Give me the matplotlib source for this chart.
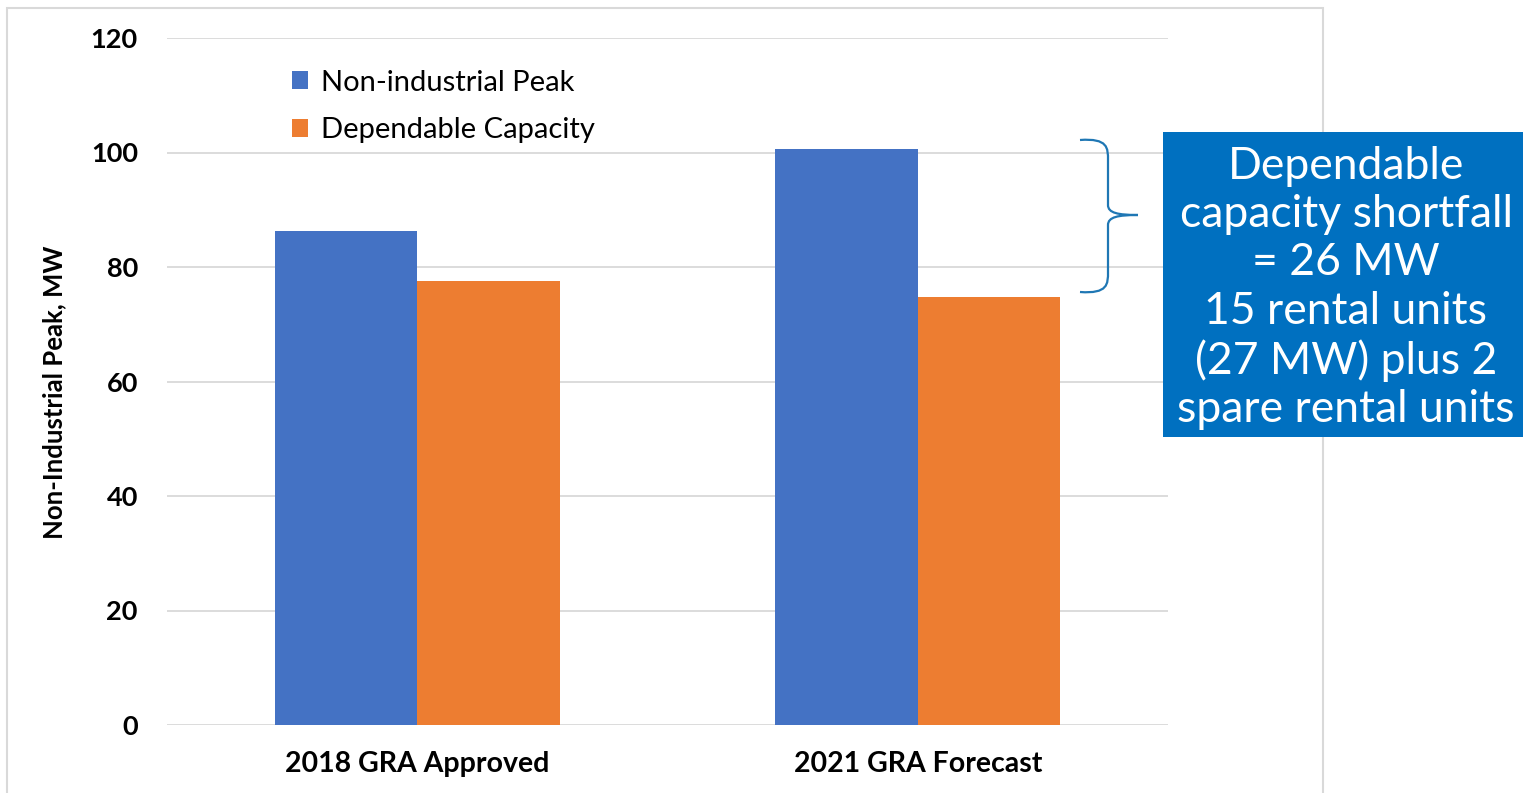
import matplotlib
matplotlib.use("Agg")
import matplotlib.pyplot as plt
import matplotlib.patches as mpatches
from matplotlib.path import Path
import numpy as np

categories = ["2018 GRA Approved", "2021 GRA Forecast"]
series_names = ["Non-industrial Peak", "Dependable Capacity"]
peak = [86.3, 100.6]
capacity = [77.5, 74.8]
yticks = [0, 20, 40, 60, 80, 100, 120]
box_text = "Dependable\ncapacity shortfall\n= 26 MW\n15 rental units\n(27 MW) plus 2\nspare rental units"

blue = "#4472C4"
orange = "#ED7D31"

W, H = 1523, 793
fig = plt.figure(figsize=(W / 100, H / 100), dpi=100)

def fx(px):
    return px / W

def fy(py):
    return 1 - py / H

# outer chart frame
frame = mpatches.Rectangle((fx(7), fy(810)), fx(1323) - fx(7), fy(8) - fy(810),
                           transform=fig.transFigure, fill=False,
                           edgecolor="#d9d9d9", linewidth=1.5, zorder=0)
fig.patches.append(frame)

ax = fig.add_axes([fx(167), fy(725), fx(1168) - fx(167), fy(38) - fy(725)])
x = np.arange(len(categories))
bw = 0.285
ax.bar(x - bw / 2, peak, bw, color=blue, label=series_names[0], zorder=3)
ax.bar(x + bw / 2, capacity, bw, color=orange, label=series_names[1], zorder=3)

ax.set_xlim(-0.5, 1.5)
ax.set_ylim(0, 120)
ax.set_yticks(yticks)
ax.set_yticklabels([str(v) for v in yticks], fontsize=19.5, fontweight="bold", family="Lato")
ax.set_xticks(x)
ax.set_xticklabels(categories, fontsize=20.5, fontweight="bold", family="Lato")
ax.tick_params(axis="both", length=0)
ax.tick_params(axis="y", pad=21)
ax.tick_params(axis="x", pad=19)
ax.grid(axis="y", color="#d9d9d9", linewidth=1.3, zorder=0)
for s in ax.spines.values():
    s.set_visible(False)
ax.set_ylabel("Non-Industrial Peak, MW", fontsize=18.5, fontweight="bold", family="Lato")
ax.yaxis.set_label_coords(-0.101, 0.485)

ax.legend(loc="upper left", bbox_to_anchor=(0.125, 0.954), frameon=False,
          prop={"family": "Lato", "size": 21}, handlelength=0.55, handleheight=0.55,
          handletextpad=0.45, labelspacing=0.75, borderaxespad=0, borderpad=0)

# brace
bx0, bx1, bxt = 1080, 1108, 1138
yt, ym, yb = 140, 215, 292
verts = [
    (bx0, yt), (bx1, yt - 2), (bx1, yt + 8), (bx1, yt + 20),
    (bx1, ym - 10),
    (bx1, ym - 2), (bx1 + 10, ym), (bxt, ym),
    (bx1 + 10, ym), (bx1, ym + 2), (bx1, ym + 10),
    (bx1, yb - 20),
    (bx1, yb - 8), (bx1, yb + 2), (bx0, yb),
]
codes = [Path.MOVETO, Path.CURVE4, Path.CURVE4, Path.CURVE4,
         Path.LINETO,
         Path.CURVE4, Path.CURVE4, Path.CURVE4,
         Path.CURVE4, Path.CURVE4, Path.CURVE4,
         Path.LINETO,
         Path.CURVE4, Path.CURVE4, Path.CURVE4]
path = Path([(fx(a), fy(b)) for a, b in verts], codes)
fig.patches.append(mpatches.PathPatch(path, transform=fig.transFigure, fill=False,
                                      edgecolor="#1F77B4", linewidth=1.6))

# annotation box
box = mpatches.Rectangle((fx(1163), fy(437)), fx(1523) - fx(1163), fy(132) - fy(437),
                         transform=fig.transFigure, facecolor="#0070C0", edgecolor="none")
fig.patches.append(box)
fig.text(fx(1346), fy(288), box_text, color="white", fontsize=32, family="Lato",
         ha="center", va="center", linespacing=1.22)

fig.savefig("out.png", dpi=100)
